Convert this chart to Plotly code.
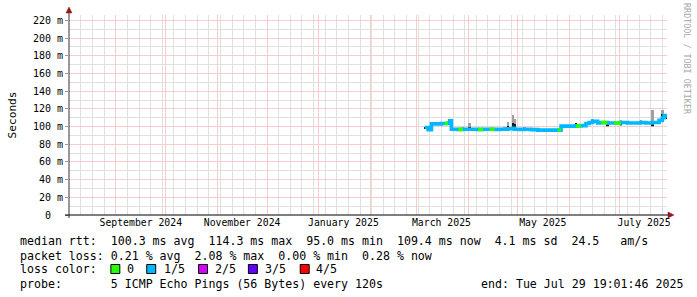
import plotly.graph_objects as go
import pandas as pd

# ---------------- data ----------------
START = "2024-08-03 19:01:46"
END = "2025-07-29 19:01:46"

dates = ["2025-03-06", "2025-03-08", "2025-03-10", "2025-03-13", "2025-03-16", "2025-03-18",
         "2025-03-20", "2025-03-21", "2025-03-22", "2025-03-24", "2025-03-26", "2025-03-29",
         "2025-04-02", "2025-04-05", "2025-04-07", "2025-04-10", "2025-04-14", "2025-04-17",
         "2025-04-20", "2025-04-23", "2025-04-25", "2025-04-28", "2025-04-29", "2025-05-02",
         "2025-05-05", "2025-05-09", "2025-05-13", "2025-05-17", "2025-05-21", "2025-05-25",
         "2025-05-27", "2025-05-31", "2025-06-04", "2025-06-05", "2025-06-08", "2025-06-11",
         "2025-06-13", "2025-06-15", "2025-06-18", "2025-06-20", "2025-06-24", "2025-06-28",
         "2025-07-02", "2025-07-06", "2025-07-10", "2025-07-14", "2025-07-17", "2025-07-21",
         "2025-07-23", "2025-07-25", "2025-07-27", "2025-07-28", "2025-07-29 18:00"]

median_ms = [99.0, 96.5, 103.0, 103.0, 103.5, 103.5,
             104.0, 106.5, 97.0, 97.0, 96.8, 97.0,
             97.0, 97.0, 96.7, 97.0, 97.0, 96.8,
             97.0, 97.0, 97.5, 98.0, 97.0, 96.8,
             97.0, 96.5, 96.0, 96.0, 96.0, 96.0,
             100.5, 100.5, 100.5, 100.8, 101.0, 103.5,
             104.5, 106.0, 104.0, 104.5, 104.0, 104.0,
             104.5, 104.0, 104.0, 104.5, 104.0, 104.5,
             104.5, 107.0, 110.0, 112.5, 110.0]

# packet loss per sample, in fifths (0 = no loss, 1 = 1/5)
loss_fifths = [1, 1, 1, 1, 1, 0,
               1, 1, 1, 1, 0, 1,
               1, 1, 0, 1, 0, 1,
               1, 1, 1, 1, 1, 1,
               1, 1, 1, 1, 1, 0,
               1, 1, 1, 0, 1, 1,
               1, 1, 1, 0, 1, 0,
               1, 1, 1, 1, 1, 1,
               1, 1, 1, 1, 1]

smoke_lo = [97.5, 95.0, 102.0, 102.0, 102.5, 102.5,
            103.0, 103.0, 96.0, 96.0, 96.0, 96.0,
            96.0, 96.0, 96.0, 96.0, 96.0, 96.0,
            96.0, 96.0, 96.5, 96.5, 96.0, 96.0,
            96.0, 95.5, 94.5, 95.0, 95.0, 95.0,
            99.5, 99.5, 99.5, 99.5, 100.0, 102.5,
            103.5, 104.5, 103.0, 103.5, 100.0, 103.0,
            101.0, 103.0, 103.0, 103.5, 103.0, 100.0,
            103.5, 106.0, 106.0, 111.0, 109.0]

smoke_hi = [100.0, 98.0, 104.0, 104.0, 104.5, 104.5,
            105.0, 108.5, 99.0, 98.5, 98.0, 99.0,
            104.0, 98.5, 98.0, 98.0, 98.5, 98.0,
            98.0, 100.0, 105.0, 113.0, 108.0, 98.0,
            99.0, 97.5, 97.0, 97.0, 97.0, 97.0,
            101.5, 101.5, 101.5, 104.0, 102.0, 104.5,
            105.5, 109.0, 105.0, 105.5, 105.0, 105.0,
            107.0, 105.0, 105.0, 107.0, 105.0, 119.0,
            105.5, 108.0, 119.0, 114.0, 111.0]

dark_lo = [98.0, 96.0, 102.5, 102.5, 103.0, 103.0,
           103.5, 104.0, 96.5, 96.5, 96.5, 96.5,
           96.5, 96.5, 96.5, 96.5, 96.5, 96.5,
           96.5, 96.5, 97.0, 97.0, 96.5, 96.5,
           96.5, 96.0, 95.0, 95.5, 95.5, 95.5,
           100.0, 100.0, 100.0, 100.0, 100.5, 103.0,
           104.0, 105.0, 103.5, 104.0, 100.5, 103.5,
           102.0, 103.5, 103.5, 104.0, 103.5, 101.0,
           104.0, 106.5, 106.5, 111.5, 109.5]

dark_hi = [99.5, 97.0, 103.5, 103.5, 104.0, 104.0,
           104.5, 107.0, 97.5, 97.5, 97.5, 97.5,
           100.0, 97.5, 97.5, 97.5, 97.5, 97.5,
           97.5, 97.5, 101.0, 104.0, 103.0, 97.5,
           97.5, 97.0, 96.5, 96.5, 96.5, 96.5,
           101.0, 101.0, 101.0, 103.5, 101.5, 104.0,
           105.0, 106.5, 104.5, 105.0, 104.5, 104.5,
           106.0, 104.5, 104.5, 105.0, 104.5, 106.0,
           105.0, 107.5, 114.0, 113.0, 110.5]

y_tickvals = [0, 20, 40, 60, 80, 100, 120, 140, 160, 180, 200, 220]
y_ticktext = ["0\u00a0\u00a0"] + [f"{v}\u00a0m" for v in y_tickvals[1:]]

month_starts = [d.strftime("%Y-%m-%d") for d in pd.date_range("2024-09-01", "2025-07-01", freq="MS")]
label_dates = ["2024-09-16", "2024-11-16", "2025-01-16", "2025-03-16", "2025-05-16", "2025-07-16"]
label_text = ["September 2024", "November 2024", "January 2025", "March 2025", "May 2025", "July 2025"]

loss_labels = ["0", "1/5", "2/5", "3/5", "4/5"]
loss_colors = ["#26ff00", "#00b8ff", "#d400ff", "#5e00ff", "#ff0000"]

stats_line1 = "median rtt:  100.3 ms avg  114.3 ms max  95.0 ms min  109.4 ms now  4.1 ms sd  24.5   am/s"
stats_line2 = "packet loss: 0.21 % avg  2.08 % max  0.00 % min  0.28 % now"
probe_text = "probe:       5 ICMP Echo Pings (56 Bytes) every 120s"
end_text = "end: Tue Jul 29 19:01:46 2025"

# ---------------- geometry helpers ----------------
W, H = 697, 297
L, R, T, B = 67, 667, 15, 215
MONO = "DejaVu Sans Mono"


def px(x):
    return (x - L) / (R - L)


def py(y):
    return (B - y) / (B - T)


def nb(s):
    return s.replace(" ", "\u00a0")


DAY_MS = 86400000
major_grid = "#f5cdcd"
minor_grid = "#e0e0e0"

fig = go.Figure()

# smoke (outer, grey)
fig.add_trace(go.Bar(
    x=dates, base=smoke_lo, y=[h - l for h, l in zip(smoke_hi, smoke_lo)],
    width=1.5 * DAY_MS, marker=dict(color="#a0a0a0", line=dict(width=0)),
    showlegend=False, hoverinfo="skip"))
# smoke (inner, dark)
fig.add_trace(go.Bar(
    x=dates, base=dark_lo, y=[h - l for h, l in zip(dark_hi, dark_lo)],
    width=1.5 * DAY_MS, marker=dict(color="#1a1a1a", line=dict(width=0)),
    showlegend=False, hoverinfo="skip"))

# median line coloured by loss (1/5 base colour)
fig.add_trace(go.Scatter(
    x=dates, y=median_ms, mode="lines",
    line=dict(color=loss_colors[1], width=3.6, shape="hv"),
    showlegend=False, hoverinfo="skip"))

# segments with zero loss
gx, gy = [], []
for i in range(len(dates) - 1):
    if loss_fifths[i] == 0:
        gx += [dates[i], dates[i + 1], None]
        gy += [median_ms[i], median_ms[i], None]
fig.add_trace(go.Scatter(
    x=gx, y=gy, mode="lines",
    line=dict(color=loss_colors[0], width=3.6),
    showlegend=False, hoverinfo="skip", connectgaps=False))

# invisible trace to hold the label axis
fig.add_trace(go.Scatter(x=[START], y=[0], xaxis="x2", mode="markers",
                         marker=dict(opacity=0), showlegend=False, hoverinfo="skip"))

fig.update_layout(
    width=W, height=H,
    margin=dict(l=L, r=W - R, t=T, b=H - B, pad=0),
    paper_bgcolor="white", plot_bgcolor="white",
    barmode="overlay", bargap=0,
    font=dict(family=MONO, size=11.7, color="black"),
    xaxis=dict(
        type="date", range=[START, END],
        tickmode="array", tickvals=month_starts, ticktext=[""] * len(month_starts),
        showgrid=True, gridcolor=major_grid, gridwidth=1,
        minor=dict(tick0="2024-08-04", dtick=7 * DAY_MS, showgrid=True,
                   gridcolor=minor_grid, gridwidth=1),
        showline=False, zeroline=False, ticks="",
    ),
    xaxis2=dict(
        type="date", range=[START, END], overlaying="x", anchor="y", side="bottom",
        tickmode="array", tickvals=label_dates, ticktext=label_text,
        showgrid=False, showline=False, zeroline=False, ticks="",
        tickfont=dict(family=MONO, size=9.8, color="black"),
    ),
    yaxis=dict(
        range=[0, 226.1],
        tickmode="array", tickvals=y_tickvals, ticktext=y_ticktext,
        showgrid=True, gridcolor=major_grid, gridwidth=1,
        minor=dict(dtick=10, showgrid=True, gridcolor=minor_grid, gridwidth=1),
        showline=False, zeroline=False, ticks="outside", ticklen=3, tickcolor="#999",
        tickfont=dict(family=MONO, size=10, color="black"),
        title=dict(text="Seconds", font=dict(family=MONO, size=11.2, color="black"), standoff=13),
    ),
)

# axes lines and arrows
shapes = [
    dict(type="line", xref="paper", yref="paper", x0=px(L), x1=px(L), y0=py(218), y1=py(12),
         line=dict(color="#333", width=1)),
    dict(type="line", xref="paper", yref="paper", x0=px(63), x1=px(669), y0=py(215), y1=py(215),
         line=dict(color="#000", width=1)),
    dict(type="path", xref="paper", yref="paper",
         path=f"M {px(64)} {py(13)} L {px(70)} {py(13)} L {px(67)} {py(7)} Z",
         fillcolor="#901818", line=dict(color="#901818", width=0.5)),
    dict(type="path", xref="paper", yref="paper",
         path=f"M {px(668)} {py(212)} L {px(668)} {py(218)} L {px(674)} {py(215)} Z",
         fillcolor="#901818", line=dict(color="#901818", width=0.5)),
]

# legend boxes
box_left = [109, 145, 197, 247, 299]
text_left = [123, 160, 211, 262, 313]
annotations = []
for bl, tl, lab, col in zip(box_left, text_left, loss_labels, loss_colors):
    shapes.append(dict(type="rect", xref="paper", yref="paper",
                       x0=px(bl), x1=px(bl + 9), y0=py(273.5), y1=py(264.5),
                       fillcolor=col, line=dict(color="black", width=1)))
    annotations.append(dict(xref="paper", yref="paper", x=px(tl), y=py(269), text=lab,
                            showarrow=False, xanchor="left", yanchor="middle",
                            font=dict(family=MONO, size=11.7, color="black")))

text_rows = [(stats_line1, 16, 241), (stats_line2, 16, 255.5), ("loss color:", 16, 269),
             (probe_text, 16, 283.5), (end_text, 478, 283.5)]
for s, x, y in text_rows:
    annotations.append(dict(xref="paper", yref="paper", x=px(x), y=py(y), text=nb(s),
                            showarrow=False, xanchor="left", yanchor="middle",
                            font=dict(family=MONO, size=11.6, color="black")))

annotations.append(dict(xref="paper", yref="paper", x=px(687), y=py(59),
                        text=nb("RRDTOOL / TOBI OETIKER"), textangle=90, showarrow=False,
                        xanchor="center", yanchor="middle",
                        font=dict(family=MONO, size=8.4, color="#a8a8a8")))

fig.update_layout(shapes=shapes, annotations=annotations)

fig.write_html("out.html")
